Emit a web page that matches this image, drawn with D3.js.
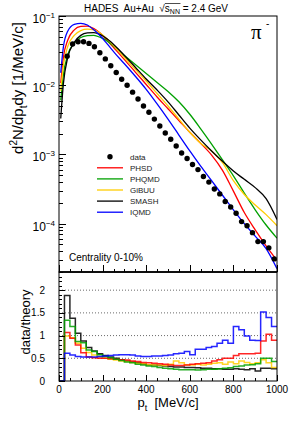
<!DOCTYPE html>
<html>
<head>
<meta charset="utf-8">
<script src="https://cdn.jsdelivr.net/npm/d3@7"></script>
<style>
body { margin: 0; background: #fff; }
text { font-family: "Liberation Sans", Arial, sans-serif; fill: #000; }
</style>
</head>
<body>
<script>
// measured pi- spectrum (points)
var pData = [37.5, 62.5, 87.5, 112.5, 137.5, 162.5, 187.5, 212.5, 237.5, 262.5, 287.5, 312.5, 337.5,
  362.5, 387.5, 412.5, 437.5, 462.5, 487.5, 512.5, 537.5, 562.5, 587.5, 612.5, 637.5, 662.5, 687.5,
  712.5, 737.5, 762.5, 787.5, 812.5, 837.5, 862.5, 887.5, 912.5, 937.5, 962.5, 987.5];
var yData = [0.0263, 0.0393, 0.0425, 0.0425, 0.0402, 0.0359, 0.0295, 0.0240, 0.0191, 0.0153, 0.0122, 0.0100,
  0.00794, 0.00631, 0.00501, 0.00407, 0.00324, 0.00257, 0.00204, 0.00166, 0.00132, 0.00105, 0.000871,
  0.000716, 0.000603, 0.000479, 0.000398, 0.000316, 0.000269, 0.000209, 0.000174, 0.000141, 0.000107,
  0.0000933, 0.0000741, 0.0000550, 0.0000550, 0.0000447, 0.0000309];

// model curves, log10 of d2N/dpt dy read at these pt
var pModel = [8, 20, 40, 70, 100, 130, 160, 190, 220, 260, 300, 350, 400, 450, 500, 550, 600, 650, 700, 750, 800, 850, 900, 950, 1000];
var phsdLog  = [-1.97, -1.60, -1.35, -1.20, -1.15, -1.145, -1.18, -1.25, -1.35, -1.49, -1.63, -1.81, -1.99, -2.17, -2.34, -2.51, -2.68, -2.84, -3.01, -3.23, -3.53, -3.84, -4.09, -4.32, -4.53];
var phqmdLog = [-2.22, -1.85, -1.56, -1.39, -1.31, -1.285, -1.28, -1.31, -1.36, -1.46, -1.57, -1.70, -1.83, -1.96, -2.09, -2.24, -2.42, -2.63, -2.85, -3.08, -3.31, -3.56, -3.80, -4.02, -4.21];
var gibuuLog = [-2.08, -1.72, -1.44, -1.28, -1.21, -1.19, -1.20, -1.25, -1.33, -1.46, -1.60, -1.77, -1.94, -2.12, -2.30, -2.49, -2.68, -2.84, -2.95, -3.12, -3.38, -3.58, -3.73, -3.87, -4.03];
var smashLog = [-2.48, -1.98, -1.60, -1.38, -1.28, -1.245, -1.24, -1.27, -1.33, -1.44, -1.57, -1.74, -1.91, -2.07, -2.24, -2.43, -2.62, -2.79, -2.95, -3.10, -3.24, -3.36, -3.48, -3.64, -3.94];
var iqmdLog  = [-1.82, -1.45, -1.22, -1.12, -1.106, -1.13, -1.20, -1.29, -1.40, -1.55, -1.69, -1.87, -2.06, -2.27, -2.49, -2.72, -2.95, -3.17, -3.38, -3.59, -3.80, -4.00, -4.18, -4.36, -4.65];

// data/theory ratio, 25 MeV/c bins (lower edges)
var pBins = [0, 25, 50, 75, 100, 125, 150, 175, 200, 225, 250, 275, 300, 325, 350, 375, 400, 425, 450, 475,
  500, 525, 550, 575, 600, 625, 650, 675, 700, 725, 750, 775, 800, 825, 850, 875, 900, 925, 950, 975];
var ratioPHSD  = [0, 1.07, 0.94, 0.79, 0.62, 0.53, 0.51, 0.50, 0.50, 0.49, 0.48, 0.47, 0.46, 0.44, 0.43, 0.41, 0.40, 0.39, 0.38, 0.37,
  0.35, 0.34, 0.34, 0.35, 0.37, 0.38, 0.39, 0.40, 0.44, 0.47, 0.50, 0.50, 0.56, 0.60, 0.60, 0.60, 0.61, 0.88, 1.03, 0.90];
var ratioPHQMD = [0, 1.34, 1.20, 0.87, 0.84, 0.68, 0.65, 0.58, 0.54, 0.51, 0.48, 0.45, 0.42, 0.40, 0.37, 0.35, 0.33, 0.32, 0.30, 0.28,
  0.27, 0.26, 0.25, 0.25, 0.25, 0.24, 0.25, 0.26, 0.26, 0.27, 0.28, 0.29, 0.32, 0.33, 0.35, 0.36, 0.38, 0.50, 0.50, 0.43];
var ratioGiBUU = [0, 0.99, 0.95, 0.83, 0.72, 0.63, 0.57, 0.53, 0.50, 0.48, 0.46, 0.44, 0.43, 0.41, 0.39, 0.38, 0.36, 0.35, 0.35, 0.34,
  0.37, 0.44, 0.40, 0.36, 0.35, 0.37, 0.35, 0.37, 0.39, 0.40, 0.37, 0.42, 0.38, 0.44, 0.41, 0.38, 0.40, 0.47, 0.40, 0.30];
var ratioSMASH = [0, 1.88, 1.38, 1.05, 0.88, 0.74, 0.66, 0.60, 0.56, 0.53, 0.50, 0.47, 0.44, 0.42, 0.40, 0.38, 0.36, 0.35, 0.34, 0.33,
  0.32, 0.31, 0.31, 0.30, 0.30, 0.29, 0.28, 0.28, 0.27, 0.27, 0.26, 0.26, 0.27, 0.26, 0.25, 0.27, 0.22, 0.28, 0.28, 0.27];
var ratioIQMD  = [0, 0.61, 0.57, 0.54, 0.53, 0.53, 0.53, 0.54, 0.55, 0.56, 0.57, 0.58, 0.58, 0.57, 0.55, 0.54, 0.54, 0.55, 0.55, 0.56,
  0.57, 0.60, 0.61, 0.65, 0.58, 0.70, 0.70, 0.74, 0.76, 0.83, 0.90, 0.83, 1.20, 1.13, 0.99, 0.90, 0.89, 1.52, 1.40, 1.20];

var models = ['PHSD', 'PHQMD', 'GiBUU', 'SMASH', 'IQMD'];
var colors = ['#ff0000', '#00a000', '#ffcc00', '#000000', '#0000ff'];
var curves = [phsdLog, phqmdLog, gibuuLog, smashLog, iqmdLog];
var ratios = [ratioPHSD, ratioPHQMD, ratioGiBUU, ratioSMASH, ratioIQMD];

var xTicks = [0, 200, 400, 600, 800, 1000];
var upperTicks = [1e-1, 1e-2, 1e-3, 1e-4];
var upperTickExp = ['\u22121', '\u22122', '\u22123', '\u22124'];
var lowerTicks = [0, 0.5, 1, 1.5, 2];
var lowerTickLabels = ['0', '0.5', '1', '1.5', '2'];

d3main();

function d3main() {
  var svg = d3.select('body').append('svg')
    .attr('width', 291).attr('height', 435);

  var x = d3.scaleLinear().domain([0, 1000]).range([59, 277]);
  var yU = d3.scaleLog().domain([2e-5, 0.1]).range([272, 16]);
  var yL = d3.scaleLinear().domain([0, 2.4]).range([381, 272]);

  var defs = svg.append('defs');
  defs.append('clipPath').attr('id', 'clipU').append('rect')
    .attr('x', 59).attr('y', 16).attr('width', 218).attr('height', 256);
  defs.append('clipPath').attr('id', 'clipL').append('rect')
    .attr('x', 59).attr('y', 272).attr('width', 218).attr('height', 109);

  // ---- upper panel ----
  var line = d3.line()
    .x(function(d) { return x(d[0]); })
    .y(function(d) { return yU(Math.pow(10, d[1])); })
    .curve(d3.curveMonotoneX);

  var gU = svg.append('g').attr('clip-path', 'url(#clipU)');
  curves.forEach(function(c, i) {
    gU.append('path')
      .datum(pModel.map(function(p, j) { return [p, c[j]]; }))
      .attr('d', line)
      .attr('fill', 'none')
      .attr('stroke', colors[i])
      .attr('stroke-width', 1.3);
  });

  gU.selectAll('circle.data')
    .data(pData)
    .enter()
    .append('circle')
    .attr('class', 'data')
    .attr('cx', function(d) { return x(d); })
    .attr('cy', function(d, i) { return yU(yData[i]); })
    .attr('r', 2.7)
    .attr('fill', '#000');

  // ---- lower panel ----
  svg.append('g').selectAll('line.grid')
    .data(lowerTicks.slice(1))
    .enter()
    .append('line')
    .attr('x1', 59).attr('x2', 277)
    .attr('y1', function(d) { return yL(d); })
    .attr('y2', function(d) { return yL(d); })
    .attr('stroke', '#444')
    .attr('stroke-width', 0.8)
    .attr('stroke-dasharray', '1,2');

  var step = d3.line()
    .x(function(d) { return x(d[0]); })
    .y(function(d) { return yL(d[1]); })
    .curve(d3.curveStepAfter);

  var gL = svg.append('g').attr('clip-path', 'url(#clipL)');
  [3, 2, 0, 1, 4].forEach(function(i) {
    var pts = pBins.map(function(p, k) { return [p, ratios[i][k]]; });
    pts.push([1000, ratios[i][ratios[i].length - 1]]);
    gL.append('path')
      .datum(pts)
      .attr('d', step)
      .attr('fill', 'none')
      .attr('stroke', colors[i])
      .attr('stroke-opacity', 0.85)
      .attr('stroke-width', 1.5);
  });

  // ---- axes (ticks inside, ROOT style) ----
  function ticks(axis, tr, vals, size) {
    svg.append('g')
      .attr('transform', tr)
      .call(axis.tickValues(vals).tickSize(size).tickFormat(''))
      .call(function(g) { g.select('.domain').remove(); })
      .selectAll('line').attr('stroke', '#000').attr('shape-rendering', 'crispEdges');
  }

  var minorU = [];
  [1e-5, 1e-4, 1e-3, 1e-2].forEach(function(dec) {
    for (var m = 2; m <= 9; m++) {
      var v = dec * m;
      if (v >= 2e-5 && v <= 0.1) minorU.push(v);
    }
  });
  ticks(d3.axisLeft(yU), 'translate(59,0)', upperTicks, -7);
  ticks(d3.axisLeft(yU), 'translate(59,0)', minorU, -3.5);

  var minorX = d3.range(50, 1000, 50).filter(function(v) { return v % 200 !== 0; });
  ticks(d3.axisBottom(x), 'translate(0,272)', xTicks, -7);
  ticks(d3.axisBottom(x), 'translate(0,272)', minorX, -3.5);
  ticks(d3.axisBottom(x), 'translate(0,381)', xTicks, -6);
  ticks(d3.axisBottom(x), 'translate(0,381)', minorX, -3);

  var minorL = d3.range(0.1, 2.41, 0.1).filter(function(v) { return Math.abs(v * 2 - Math.round(v * 2)) > 1e-6; });
  ticks(d3.axisLeft(yL), 'translate(59,0)', lowerTicks, -6);
  ticks(d3.axisLeft(yL), 'translate(59,0)', minorL, -3);

  // frames
  svg.append('rect').attr('x', 59).attr('y', 16).attr('width', 218).attr('height', 256)
    .attr('fill', 'none').attr('stroke', '#000').attr('stroke-width', 1);
  svg.append('rect').attr('x', 59).attr('y', 272).attr('width', 218).attr('height', 109)
    .attr('fill', 'none').attr('stroke', '#000').attr('stroke-width', 1);
  svg.append('line').attr('x1', 59).attr('x2', 277).attr('y1', 272).attr('y2', 272)
    .attr('stroke', '#000').attr('stroke-width', 1.6);

  // tick labels
  upperTicks.forEach(function(v, i) {
    var t = svg.append('text')
      .attr('x', 55).attr('y', yU(v) + 7)
      .attr('text-anchor', 'end')
      .style('font-size', '12px');
    t.append('tspan').text('10');
    t.append('tspan').attr('dy', -5).style('font-size', '8px').text(upperTickExp[i]);
  });

  lowerTicks.forEach(function(v, i) {
    svg.append('text')
      .attr('x', 45).attr('y', yL(v) + 3.6)
      .attr('text-anchor', 'end')
      .style('font-size', '10px')
      .text(lowerTickLabels[i]);
  });

  xTicks.forEach(function(v) {
    svg.append('text')
      .attr('x', x(v)).attr('y', 392.5)
      .attr('text-anchor', 'middle')
      .style('font-size', '10px')
      .text(v);
  });

  // axis titles
  var yt = svg.append('text')
    .attr('transform', 'translate(23,88) rotate(-90)')
    .attr('text-anchor', 'middle')
    .style('font-size', '15px');
  yt.append('tspan').text('d');
  yt.append('tspan').attr('dy', -6).style('font-size', '10px').text('2');
  yt.append('tspan').attr('dy', 6).text('N/dp');
  yt.append('tspan').attr('dy', 4).style('font-size', '10px').text('t');
  yt.append('tspan').attr('dy', -4).text('dy [1/MeV/c]');

  svg.append('text')
    .attr('transform', 'translate(29.5,322) rotate(-90)')
    .attr('text-anchor', 'middle')
    .style('font-size', '13px')
    .text('data/theory');

  var xt = svg.append('text')
    .attr('x', 168).attr('y', 407)
    .attr('text-anchor', 'middle')
    .style('font-size', '13px')
    .style('white-space', 'pre');
  xt.append('tspan').text('p');
  xt.append('tspan').attr('dy', 4).style('font-size', '9px').text('t');
  xt.append('tspan').attr('dy', -4).text('  [MeV/c]');

  // title
  var tt = svg.append('text').attr('x', 84).attr('y', 11.5)
    .style('font-size', '10px').style('white-space', 'pre');
  tt.append('tspan').text('HADES  Au+Au  ');
  tt.append('tspan').text('\u221A');
  var sStart = tt.node().getComputedTextLength();
  tt.append('tspan').text('s');
  tt.append('tspan').attr('dy', 2.5).style('font-size', '7px').text('NN');
  var sEnd = tt.node().getComputedTextLength();
  tt.append('tspan').attr('dy', -2.5).text(' = 2.4 GeV');
  svg.append('line')
    .attr('x1', 84 + sStart).attr('x2', 84 + sEnd + 0.5)
    .attr('y1', 3.5).attr('y2', 3.5)
    .attr('stroke', '#000').attr('stroke-width', 0.7);

  // particle label
  svg.append('text').attr('x', 251).attr('y', 39)
    .style('font-family', '"Liberation Serif", "DejaVu Serif", serif')
    .style('font-size', '21px').text('\u03C0');
  svg.append('text').attr('x', 266).attr('y', 27)
    .style('font-size', '10px').text('-');

  svg.append('text').attr('x', 69).attr('y', 261)
    .style('font-size', '10px').text('Centrality 0-10%');

  // legend
  var legY0 = 156.7, legDy = 11.1;
  svg.append('circle').attr('cx', 110).attr('cy', legY0).attr('r', 2.7).attr('fill', '#000');
  svg.append('text').attr('x', 130).attr('y', legY0 + 3)
    .style('font-size', '8px').style('fill', '#222').text('data');
  models.forEach(function(m, i) {
    var yy = legY0 + legDy * (i + 1);
    svg.append('line').attr('x1', 97).attr('x2', 123).attr('y1', yy).attr('y2', yy)
      .attr('stroke', colors[i]).attr('stroke-width', 1.3);
    svg.append('text').attr('x', 130).attr('y', yy + 3)
      .style('font-size', '8px').style('fill', '#222').text(m);
  });
}
</script>
</body>
</html>
